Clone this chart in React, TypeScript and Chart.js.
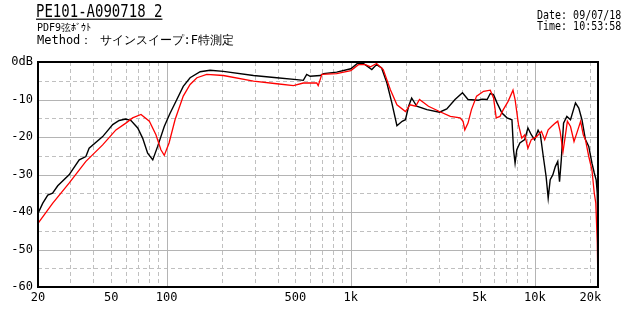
import React, { useEffect, useRef } from "react";
import { Chart, registerables } from "chart.js";

Chart.register(...registerables);

// ---- data ----
const blackFreq = [20, 21.2, 22.6, 24, 25.6, 29.5, 33.5, 36.4, 37.9, 44.9, 50.9, 55.2, 60, 64, 69.6, 74, 78.8, 84, 89.3, 97, 104, 113, 123, 134, 152, 172, 203, 296, 396, 508, 552, 576, 601, 683, 710, 838, 1000, 1085, 1170, 1300, 1380, 1470, 1570, 1670, 1780, 1900, 1980, 2060, 2140, 2280, 2590, 3030, 3320, 3680, 4040, 4330, 4920, 5160, 5500, 5720, 5960, 6220, 6620, 7050, 7500, 7650, 7800, 7970, 8280, 8800, 9160, 9550, 9950, 10400, 10700, 11100, 11500, 11800, 12100, 12500, 12900, 13300, 13600, 13900, 14300, 14900, 15600, 16600, 17300, 18000, 18800, 19600, 20400, 21000, 21500, 21800, 21950];
const blackDb = [-40.4, -37.7, -35.5, -35.0, -33.0, -30.1, -26.1, -25.2, -23.0, -19.9, -16.7, -15.6, -15.2, -15.6, -17.6, -20.3, -24.3, -26.1, -22.5, -17.2, -13.8, -10.2, -6.5, -4.2, -2.6, -2.2, -2.5, -3.6, -4.2, -4.7, -4.9, -3.3, -3.8, -3.6, -3.1, -2.7, -1.8, -0.4, -0.4, -2.0, -0.7, -1.6, -5.6, -10.9, -17.0, -15.8, -15.4, -11.8, -9.6, -11.8, -12.7, -13.4, -12.5, -10.0, -8.2, -10.0, -10.2, -9.9, -10.0, -8.4, -8.7, -10.9, -13.6, -14.9, -15.4, -23.4, -27.0, -23.4, -21.6, -20.7, -17.6, -19.4, -20.7, -18.2, -19.4, -25.2, -30.6, -36.3, -31.4, -30.1, -27.9, -26.5, -31.9, -26.1, -16.3, -14.5, -15.4, -10.9, -12.3, -15.4, -20.7, -22.5, -27.0, -29.6, -31.4, -35.0, -44.0];

const redFreq = [20, 24, 29.5, 36.4, 44.9, 53, 60, 65.3, 72.5, 80.5, 87.4, 93, 97, 103, 111, 123, 134, 146, 165, 203, 296, 396, 488, 552, 653, 665, 696, 838, 1000, 1100, 1200, 1280, 1380, 1500, 1640, 1780, 1980, 2100, 2250, 2360, 2640, 3030, 3470, 3920, 4070, 4160, 4330, 4520, 4820, 5260, 5720, 5960, 6160, 6460, 6730, 7150, 7600, 7800, 8140, 8480, 8800, 9160, 9550, 10200, 10850, 11300, 11800, 12300, 12900, 13300, 13700, 14200, 14600, 15000, 15600, 16300, 17000, 17700, 18300, 18800, 19600, 20400, 21000, 21400, 21800, 21950];
const redDb = [-43.0, -37.7, -32.3, -26.5, -22.1, -18.1, -16.3, -14.9, -14.0, -15.8, -19.4, -23.4, -24.9, -21.6, -15.4, -9.1, -6.0, -4.2, -3.3, -3.6, -5.1, -5.8, -6.3, -5.6, -5.6, -6.3, -3.3, -3.1, -2.3, -0.7, -0.7, -1.3, -0.4, -2.0, -7.4, -11.4, -13.2, -11.4, -11.8, -10.0, -11.8, -13.2, -14.5, -14.9, -15.8, -18.1, -16.3, -12.7, -9.1, -7.8, -7.5, -9.6, -14.9, -14.5, -12.7, -10.5, -7.5, -10.0, -16.7, -20.3, -19.4, -23.0, -20.7, -19.9, -18.5, -20.7, -18.1, -17.2, -16.3, -15.8, -18.5, -23.9, -19.9, -15.8, -17.2, -21.2, -18.5, -15.8, -19.4, -20.7, -25.2, -28.8, -35.0, -37.6, -48.0, -57.0];

const xTickValues = [20, 50, 100, 500, 1000, 5000, 10000, 20000];
const xTickLabels = ["20", "50", "100", "500", "1k", "5k", "10k", "20k"];
const xGridSolid = [100, 1000, 10000];
const xGridDashed = [30, 40, 50, 60, 70, 80, 90, 200, 300, 400, 500, 600, 700, 800, 900, 2000, 3000, 4000, 5000, 6000, 7000, 8000, 9000, 20000];
const yGridSolid = [-10, -20, -30, -40, -50];
const yGridDashed = [-5, -15, -25, -35, -45, -55];

const titleText = "PE101-A090718 2";
const subText = "PDF9弦ﾎﾞｳﾄ";
const methodText = "Method： サインスイープ:F特測定";
const dateText = "Date: 09/07/18";
const timeText = "Time: 10:53:58";

const FONT = "'DejaVu Sans Mono', monospace";

const gridPlugin = {
  id: "customGrid",
  beforeDatasetsDraw(chart: any) {
    const { ctx, chartArea: a, scales } = chart;
    const x = scales.x, y = scales.y;
    ctx.save();
    ctx.lineWidth = 1;
    const vline = (v: number, dash: number[]) => {
      const px = Math.round(x.getPixelForValue(v)) + 0.5;
      ctx.setLineDash(dash);
      ctx.beginPath();
      ctx.moveTo(px, a.top);
      ctx.lineTo(px, a.bottom);
      ctx.stroke();
    };
    const hline = (v: number, dash: number[]) => {
      const py = Math.round(y.getPixelForValue(v)) + 0.5;
      ctx.setLineDash(dash);
      ctx.beginPath();
      ctx.moveTo(a.left, py);
      ctx.lineTo(a.right, py);
      ctx.stroke();
    };
    ctx.strokeStyle = "#c0c0c0";
    xGridDashed.forEach((v) => vline(v, [4, 3]));
    yGridDashed.forEach((v) => hline(v, [4, 3]));
    ctx.strokeStyle = "#b4b4b4";
    xGridSolid.forEach((v) => vline(v, []));
    yGridSolid.forEach((v) => hline(v, []));
    ctx.restore();
  },
  afterDraw(chart: any) {
    const { ctx, chartArea: a } = chart;
    ctx.save();
    ctx.strokeStyle = "#000";
    ctx.lineWidth = 2;
    ctx.setLineDash([]);
    ctx.strokeRect(Math.round(a.left), Math.round(a.top), Math.round(a.right - a.left), Math.round(a.bottom - a.top));
    ctx.restore();
  },
};

export default function App() {
  const ref = useRef<HTMLCanvasElement | null>(null);
  useEffect(() => {
    const canvas = ref.current!;
    const chart = new Chart(canvas, {
      type: "line",
      data: {
        datasets: [
          {
            label: "red",
            data: redFreq.map((f, i) => ({ x: f, y: redDb[i] })),
            borderColor: "#ff0000",
            borderWidth: 1.3,
            pointRadius: 0,
            tension: 0,
          },
          {
            label: "black",
            data: blackFreq.map((f, i) => ({ x: f, y: blackDb[i] })),
            borderColor: "#000000",
            borderWidth: 1.4,
            pointRadius: 0,
            tension: 0,
          },
        ],
      },
      options: {
        animation: false,
        responsive: false,
        devicePixelRatio: 1,
        layout: { padding: { top: 62, right: 36, left: 0, bottom: 0 } },
        plugins: { legend: { display: false }, tooltip: { enabled: false } },
        scales: {
          x: {
            type: "logarithmic",
            min: 20,
            max: 22000,
            grid: { display: false, drawTicks: false },
            border: { display: false },
            afterBuildTicks: (s: any) => {
              s.ticks = xTickValues.map((v) => ({ value: v }));
            },
            afterFit: (s: any) => {
              s.height = 32;
            },
            ticks: {
              autoSkip: false,
              maxRotation: 0,
              padding: 4,
              color: "#000",
              font: { family: FONT, size: 12 },
              callback: (v: any) => {
                const i = xTickValues.indexOf(Number(v));
                return i >= 0 ? xTickLabels[i] : "";
              },
            },
          },
          y: {
            min: -60,
            max: 0,
            grid: { display: false, drawTicks: false },
            border: { display: false },
            afterFit: (s: any) => {
              s.width = 38;
            },
            ticks: {
              stepSize: 10,
              padding: 5,
              color: "#000",
              font: { family: FONT, size: 12 },
              callback: (v: any) => (Number(v) === 0 ? "0dB" : String(v)),
            },
          },
        },
      },
      plugins: [gridPlugin],
    } as any);
    return () => chart.destroy();
  }, []);

  const base: React.CSSProperties = { position: "absolute", fontFamily: FONT, color: "#000", whiteSpace: "nowrap", lineHeight: 1 };
  return (
    <div style={{ position: "fixed", left: 0, top: 0, width: 634, height: 319, background: "#fff", overflow: "hidden" }}>
      <canvas ref={ref} width={634} height={319} style={{ position: "absolute", left: 0, top: 0, width: 634, height: 319 }} />
      <div style={{ ...base, left: 36, top: 3, fontSize: 14, textDecoration: "underline", transform: "scaleY(1.2)", transformOrigin: "0 0" }}>{titleText}</div>
      <div style={{ ...base, left: 37, top: 23, fontSize: 10 }}>{subText}</div>
      <div style={{ ...base, left: 37, top: 34, fontSize: 12 }}>{methodText}</div>
      <div style={{ ...base, left: 537, top: 10, fontSize: 10, transform: "scaleY(1.15)", transformOrigin: "0 0" }}>{dateText}</div>
      <div style={{ ...base, left: 537, top: 21, fontSize: 10, transform: "scaleY(1.15)", transformOrigin: "0 0" }}>{timeText}</div>
    </div>
  );
}
